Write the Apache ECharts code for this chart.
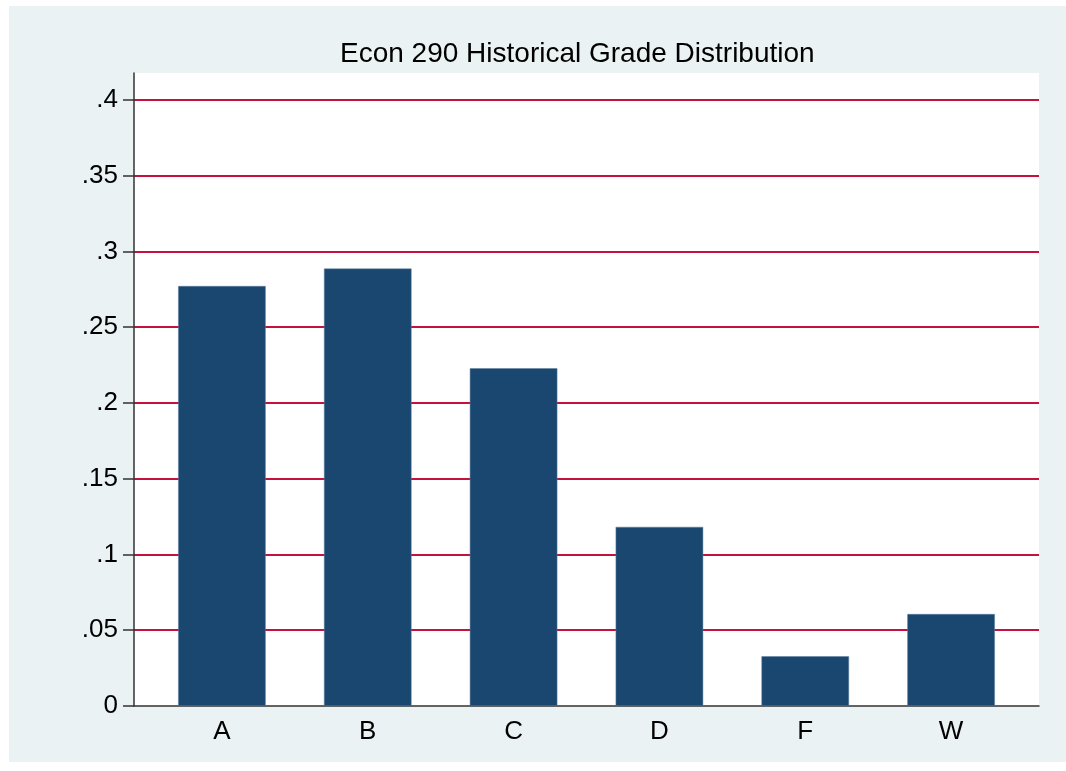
<!DOCTYPE html>
<html>
<head>
<meta charset="utf-8">
<script src="https://cdn.jsdelivr.net/npm/echarts@6/dist/echarts.min.js"></script>
<style>
  html, body { margin: 0; padding: 0; background: #ffffff; }
  #main { position: absolute; left: 9px; top: 6px; width: 1057px; height: 756px; }
</style>
</head>
<body>
<div id="main"></div>
<script>
// grade shares
var grades = ['A', 'B', 'C', 'D', 'F', 'W'];
var shares = [0.2772, 0.2887, 0.2229, 0.1182, 0.0328, 0.0607];
// y axis range (Stata pads a bit above .4)
var yMin = 0;
var yMax = 0.4178;
var yStep = 0.05;

(function () {
  var chart = echarts.init(document.getElementById('main'));
  var font = '"Liberation Sans", Arial, sans-serif';

  function fmt(v) {
    if (v === 0) return '0';
    return String(+v.toFixed(2)).replace(/^0/, '');
  }

  var option = {
    backgroundColor: '#eaf2f3',
    animation: false,
    title: {
      text: 'Econ 290 Historical Grade Distribution',
      left: 326,
      top: 29,
      textStyle: { fontFamily: font, fontSize: 28, fontWeight: 'normal', color: '#000' }
    },
    grid: [
      // full plot region: white background, y axis, red grid lines
      { left: 125, right: 27, top: 67, bottom: 56, show: true, backgroundColor: '#ffffff', borderWidth: 0 },
      // bars sit a little inside the plot region
      { left: 140, right: 42, top: 67, bottom: 56 }
    ],
    xAxis: [
      {
        gridIndex: 0, type: 'value', min: 0, max: 1,
        axisLine: { show: true, lineStyle: { color: '#333', width: 1.5 } },
        axisTick: { show: false }, axisLabel: { show: false }, splitLine: { show: false }
      },
      {
        gridIndex: 1, type: 'category', data: grades,
        axisLine: { show: false }, axisTick: { show: false },
        axisLabel: { margin: 13, fontFamily: font, fontSize: 26, color: '#000' }
      }
    ],
    yAxis: [
      {
        gridIndex: 0, type: 'value', min: yMin, max: yMax, interval: yStep,
        axisLine: { show: true, lineStyle: { color: '#333', width: 1.5 } },
        axisTick: { show: true, length: 11, lineStyle: { color: '#333', width: 1.5 } },
        axisLabel: { margin: 16, fontFamily: font, fontSize: 26, color: '#000', showMaxLabel: false, formatter: fmt },
        splitLine: { show: true, showMinLine: false, showMaxLine: false, lineStyle: { color: '#c4123e', width: 2 } }
      },
      {
        gridIndex: 1, type: 'value', min: yMin, max: yMax, show: false, splitLine: { show: false }
      }
    ],
    series: [
      {
        type: 'bar',
        xAxisIndex: 1,
        yAxisIndex: 1,
        data: shares,
        barWidth: '60%',
        itemStyle: { color: '#1a476f', borderColor: '#5f7f9c', borderWidth: 0.5 }
      }
    ]
  };

  chart.setOption(option);
})();
</script>
</body>
</html>
